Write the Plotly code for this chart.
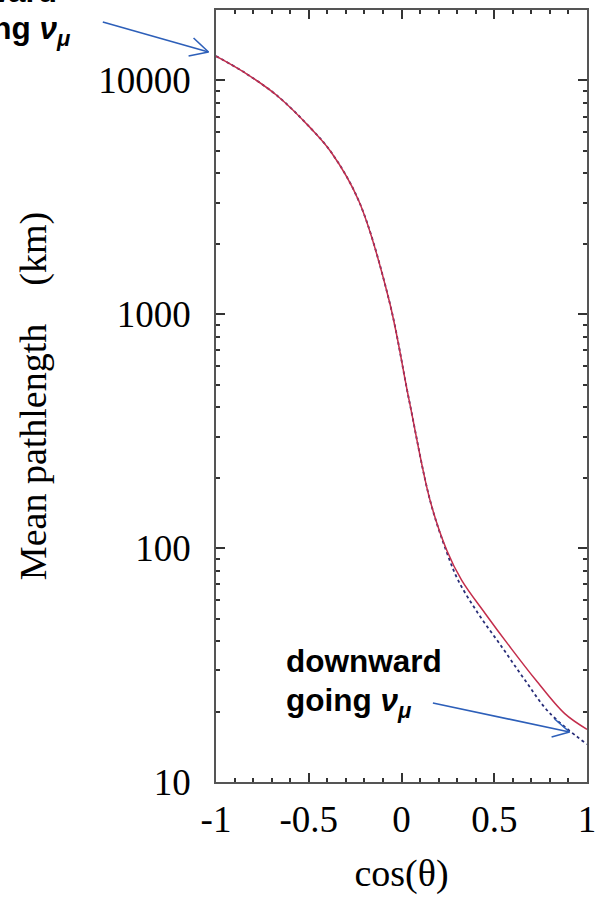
import plotly.graph_objects as go

# ---- data ----
cos_red = [-1.0, -0.85, -0.67, -0.49, -0.38, -0.23, -0.067, 0.041, 0.154, 0.244,
           0.324, 0.45, 0.584, 0.724, 0.88, 1.0]
len_red = [12700, 10850, 8600, 6250, 4940, 3050, 1148, 429, 160, 98,
           73, 52.7, 37.9, 27.3, 19.6, 16.8]

cos_blue = [-1.0, -0.85, -0.67, -0.49, -0.38, -0.23, -0.067, 0.041, 0.154, 0.244,
            0.305, 0.412, 0.54, 0.665, 0.799, 1.0]
len_blue = [12700, 10850, 8600, 6250, 4940, 3050, 1148, 429, 160, 96,
            73, 52.7, 37.9, 27.3, 19.7, 14.5]

x_tickvals = [-1, -0.5, 0, 0.5, 1]
x_ticktext = ["-1", "-0.5", "0", "0.5", "1"]
y_tickvals = [10, 100, 1000, 10000]
y_ticktext = ["10", "100", "1000", "10000"]
y_minor = [m * 10 ** e for e in range(1, 5) for m in range(2, 10) if m * 10 ** e <= 20000]
x_minor = [round(-1 + 0.1 * i, 1) for i in range(21)]

# ---- layout geometry ----
W, H = 598, 900
PL, PR, PT, PB = 215.5, 587.5, 10, 782


def px(xp):
    return (xp - PL) / (PR - PL)


def py(yp):
    return (PB - yp) / (PB - PT)


fig = go.Figure()
fig.add_trace(go.Scatter(x=cos_blue, y=len_blue, mode="lines",
                         line=dict(color="rgb(40,45,120)", width=1.8, dash="dot", shape="spline"),
                         showlegend=False))
fig.add_trace(go.Scatter(x=cos_red, y=len_red, mode="lines",
                         line=dict(color="rgb(195,45,75)", width=1.5, shape="spline"),
                         showlegend=False))

serif = "Liberation Serif"
axis_common = dict(showline=True, linecolor="#555", linewidth=1.8, mirror="ticks",
                   ticks="inside", ticklen=9, tickwidth=1.5, tickcolor="#333",
                   showgrid=False, zeroline=False,
                   tickfont=dict(family=serif, size=37, color="black"))

fig.update_xaxes(range=[-1, 1], tickvals=x_tickvals, ticktext=x_ticktext,
                 minor=dict(tickvals=x_minor, ticks="inside", ticklen=4, tickcolor="#333", showgrid=False),
                 ticklabelstandoff=4,
                 title=dict(text="cos(θ)", font=dict(family=serif, size=38, color="black"), standoff=20),
                 **axis_common)
fig.update_yaxes(type="log", range=[1, 4.301], tickvals=y_tickvals, ticktext=y_ticktext,
                 minor=dict(tickvals=y_minor, ticks="inside", ticklen=4, tickcolor="#333", showgrid=False),
                 ticklabelstandoff=16,
                 title=dict(text="Mean pathlength\u00a0\u00a0\u00a0\u00a0(km)",
                            font=dict(family=serif, size=38, color="black"), standoff=40),
                 **axis_common)

# arrows (open V heads)
arrow_col = "rgb(45,95,185)"
segs = [((102, 22), (208, 52)), ((193, 38), (208, 52)), ((188, 56), (208, 52)),
        ((433, 703), (570, 732)), ((555, 719), (570, 732)), ((552, 737), (570, 732))]
for (x0, y0), (x1, y1) in segs:
    fig.add_shape(type="line", xref="paper", yref="paper",
                  x0=px(x0), y0=py(y0), x1=px(x1), y1=py(y1),
                  line=dict(color=arrow_col, width=1.6))

sans = "Liberation Sans"
nu = "<i>ν</i><sub><i>μ</i></sub>"
labels = [("<b>upward</b>", -58, -9), ("<b>going " + nu + "</b>", -58, 31),
          ("<b>downward</b>", 284, 661), ("<b>going " + nu + "</b>", 284, 702)]
for txt, xl, yc in labels:
    fig.add_annotation(text=txt, xref="paper", yref="paper", x=px(xl), y=py(yc),
                       xanchor="left", yanchor="middle", showarrow=False,
                       font=dict(family=sans, size=31.5, color="black"))

fig.update_layout(width=W, height=H, paper_bgcolor="white", plot_bgcolor="white",
                  margin=dict(l=PL, r=W - PR, t=PT, b=H - PB, autoexpand=False))

fig.write_html("out.html")
